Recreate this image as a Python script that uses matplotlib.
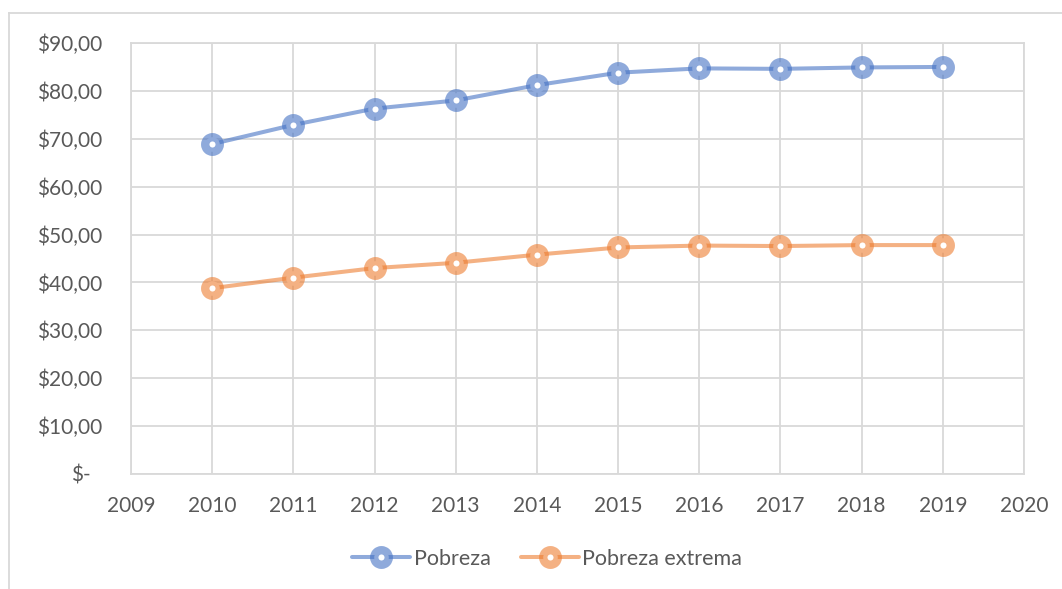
import numpy as np
import matplotlib.pyplot as plt
from matplotlib.lines import Line2D
from matplotlib.transforms import ScaledTranslation

years = [2010, 2011, 2012, 2013, 2014, 2015, 2016, 2017, 2018, 2019]
pobreza = [68.9, 72.9, 76.3, 78.0, 81.2, 83.8, 84.7, 84.6, 84.9, 85.0]
pobreza_extrema = [38.8, 41.0, 43.0, 44.1, 45.8, 47.3, 47.7, 47.6, 47.8, 47.8]
y_ticks = [0, 10, 20, 30, 40, 50, 60, 70, 80, 90]
y_labels = ["$-", "$10,00", "$20,00", "$30,00", "$40,00", "$50,00",
            "$60,00", "$70,00", "$80,00", "$90,00"]
x_ticks = list(range(2009, 2021))

plt.rcParams['font.family'] = ['Lato', 'DejaVu Sans']
txt = "#595959"
grid = "#D9D9D9"
blue = (0.267, 0.447, 0.769, 0.6)
orange = (0.929, 0.490, 0.192, 0.6)

fig = plt.figure(figsize=(10.62, 5.89), dpi=100)
ax = fig.add_axes([131/1062, 115/589, (1024-131)/1062, (474-43)/589])

for vals, col, lab in [(pobreza, blue, "Pobreza"), (pobreza_extrema, orange, "Pobreza extrema")]:
    ax.plot(years, vals, color=col, lw=2.9, marker="o", ms=10.5, mew=6.0,
            mfc="white", mec=col, label=lab, solid_capstyle="round")

ax.set_xlim(2009, 2020)
ax.set_ylim(0, 90)
ax.set_xticks(x_ticks)
ax.set_yticks(y_ticks)
ax.set_yticklabels(y_labels)
ax.grid(True, color=grid, lw=1.3)
ax.set_axisbelow(True)
for s in ax.spines.values():
    s.set_color(grid)
    s.set_linewidth(1.3)
ax.tick_params(length=0, labelsize=15, labelcolor=txt)
ax.tick_params(axis="y", pad=21)
ax.tick_params(axis="x", pad=16)

# shift the "$-" label like Excel accounting format
lbl0 = ax.get_yticklabels()[0]
lbl0.set_transform(lbl0.get_transform() + ScaledTranslation(-0.11, 0, fig.dpi_scale_trans))

leg = fig.legend(loc="center", bbox_to_anchor=(547/1062, 1 - 559/589), ncol=2,
                 frameon=False, fontsize=15.5, handlelength=2.7, columnspacing=1.4,
                 handletextpad=0.15)
for t in leg.get_texts():
    t.set_color(txt)

# outer chart frame (top and left edges visible)
fig.add_artist(Line2D([9/1062, 1], [1 - 13/589, 1 - 13/589], color=grid, lw=1.3))
fig.add_artist(Line2D([9/1062, 9/1062], [0, 1 - 13/589], color=grid, lw=1.3))

fig.savefig("out.png", dpi=100)
